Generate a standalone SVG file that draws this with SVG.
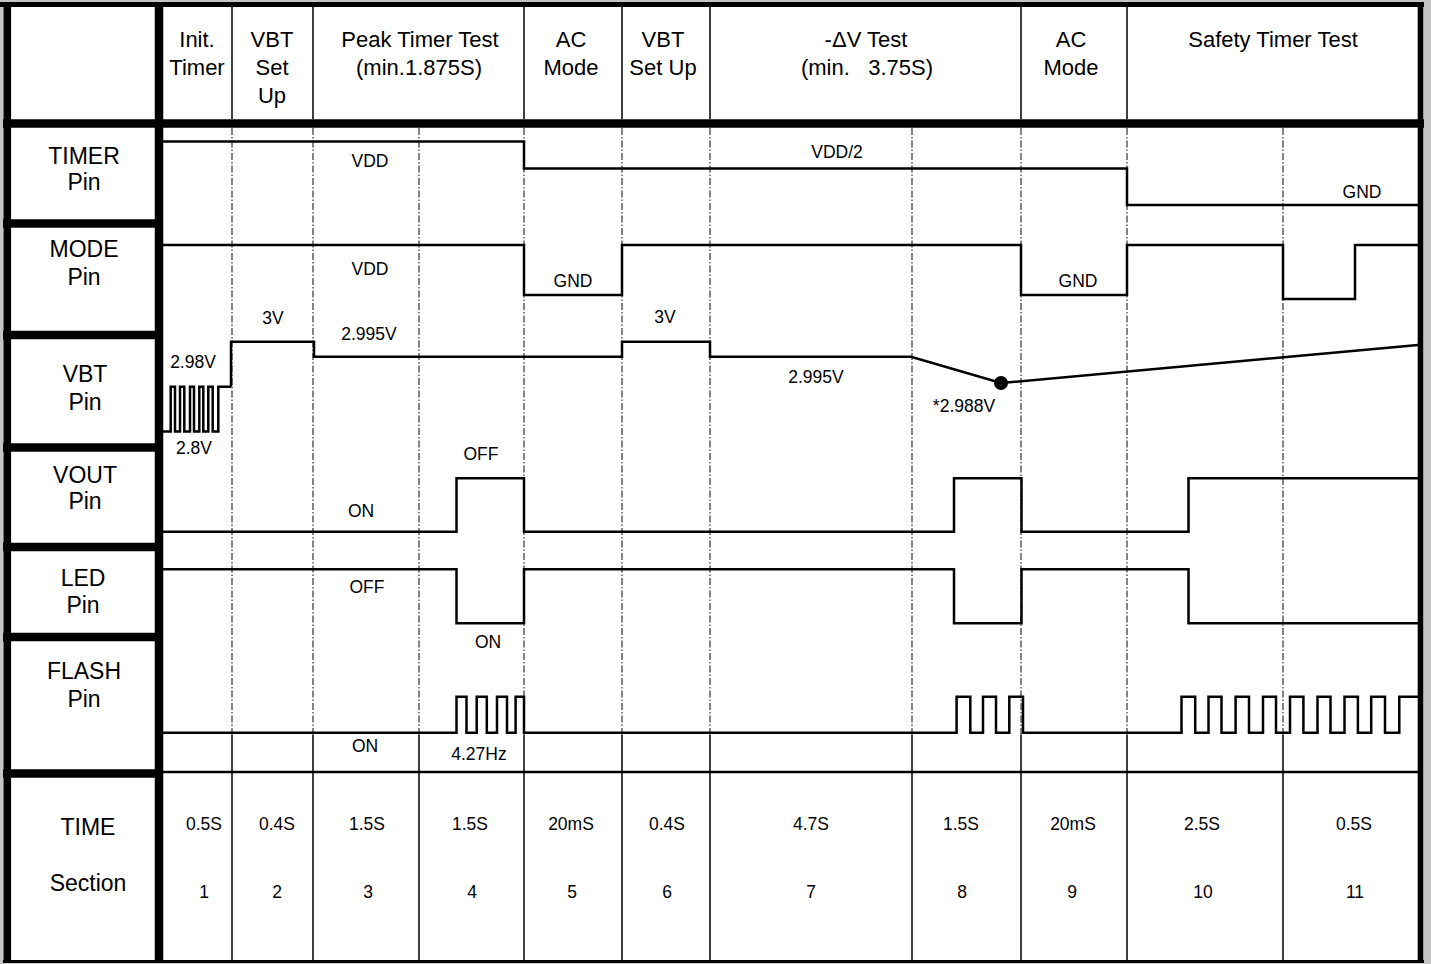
<svg xmlns="http://www.w3.org/2000/svg" width="1431" height="964" viewBox="0 0 1431 964">
<style>
text{font-family:"Liberation Sans",Arial,sans-serif;fill:#000;text-anchor:middle}
.pin{font-size:23px}
.hdr{font-size:22px;white-space:pre}
.sm{font-size:17.5px}
.thick{stroke:#000;stroke-width:8.5;fill:none}
.thin{stroke:#000;stroke-width:1.5;fill:none}
.grid{stroke:#333;stroke-width:1.2;stroke-dasharray:7 2 1.5 2;fill:none}
.sig{stroke:#000;stroke-width:2.5;fill:none;stroke-linejoin:miter}
</style>
<rect x="0" y="0" width="1431" height="964" fill="#c4c4c4"/>
<rect x="3.5" y="2" width="1420" height="960" fill="#fff"/>

<g id="frame">
  <line x1="0" y1="4.5" x2="1424" y2="4.5" stroke="#000" stroke-width="5"/>
  <line x1="7.3" y1="2" x2="7.3" y2="963" stroke="#000" stroke-width="7.6"/>
  <line x1="1420.5" y1="2" x2="1420.5" y2="963" stroke="#000" stroke-width="5.6"/>
  <line x1="3" y1="961.5" x2="1424" y2="961.5" stroke="#000" stroke-width="3"/>
  <line x1="159" y1="2" x2="159" y2="962" class="thick"/>
  <line x1="3" y1="123.5" x2="1424" y2="123.5" class="thick"/>
  <line x1="3" y1="223.5" x2="163" y2="223.5" class="thick"/>
  <line x1="3" y1="335" x2="163" y2="335" class="thick"/>
  <line x1="3" y1="447.5" x2="163" y2="447.5" class="thick"/>
  <line x1="3" y1="547" x2="163" y2="547" class="thick"/>
  <line x1="3" y1="637" x2="163" y2="637" class="thick"/>
  <line x1="3" y1="773.5" x2="163" y2="773.5" class="thick"/>
  <line x1="163" y1="772" x2="1418" y2="772" stroke="#000" stroke-width="2.5"/>
</g>

<g id="header-dividers">
  <line x1="232" y1="7" x2="232" y2="119" class="thin"/>
  <line x1="313" y1="7" x2="313" y2="119" class="thin"/>
  <line x1="524" y1="7" x2="524" y2="119" class="thin"/>
  <line x1="622" y1="7" x2="622" y2="119" class="thin"/>
  <line x1="710" y1="7" x2="710" y2="119" class="thin"/>
  <line x1="1021" y1="7" x2="1021" y2="119" class="thin"/>
  <line x1="1127" y1="7" x2="1127" y2="119" class="thin"/>
</g>

<g id="section-grid">
  <path class="grid" d="M232,128V735M313,128V735M419,128V735M524,128V735M622,128V735M710,128V735M912,128V735M1021,128V735M1127,128V735M1283,128V735"/>
  <path class="thin" d="M232,735V961M313,735V961M419,735V961M524,735V961M622,735V961M710,735V961M912,735V961M1021,735V961M1127,735V961M1283,735V961"/>
</g>

<g id="header">
  <text class="hdr" x="197" y="47">Init.</text>
  <text class="hdr" x="197" y="75">Timer</text>
  <text class="hdr" x="272" y="47">VBT</text>
  <text class="hdr" x="272" y="75">Set</text>
  <text class="hdr" x="272" y="103">Up</text>
  <text class="hdr" x="420" y="47">Peak Timer Test</text>
  <text class="hdr" x="419" y="75">(min.1.875S)</text>
  <text class="hdr" x="571" y="47">AC</text>
  <text class="hdr" x="571" y="75">Mode</text>
  <text class="hdr" x="663" y="47">VBT</text>
  <text class="hdr" x="663" y="75">Set Up</text>
  <text class="hdr" x="866" y="47">-ΔV Test</text>
  <text class="hdr" x="867" y="75">(min.   3.75S)</text>
  <text class="hdr" x="1071" y="47">AC</text>
  <text class="hdr" x="1071" y="75">Mode</text>
  <text class="hdr" x="1273" y="47">Safety Timer Test</text>
</g>

<g id="pin-labels">
  <text class="pin" x="84" y="164">TIMER</text>
  <text class="pin" x="84" y="190">Pin</text>
  <text class="pin" x="84" y="257">MODE</text>
  <text class="pin" x="84" y="285">Pin</text>
  <text class="pin" x="85" y="382">VBT</text>
  <text class="pin" x="85" y="410">Pin</text>
  <text class="pin" x="85" y="483">VOUT</text>
  <text class="pin" x="85" y="509">Pin</text>
  <text class="pin" x="83" y="586">LED</text>
  <text class="pin" x="83" y="613">Pin</text>
  <text class="pin" x="84" y="679">FLASH</text>
  <text class="pin" x="84" y="707">Pin</text>
  <text class="pin" x="88" y="835">TIME</text>
  <text class="pin" x="88" y="891">Section</text>
</g>

<g id="timer-signal">
  <path class="sig" stroke-width="2" d="M163,141.5H524V168.5H1127V205H1418"/>
  <text class="sm" x="370" y="167">VDD</text>
  <text class="sm" x="837" y="158">VDD/2</text>
  <text class="sm" x="1362" y="198">GND</text>
</g>

<g id="mode-signal">
  <path class="sig" d="M163,245H524V295H622V245H1021V295H1127V245H1283V299H1355V245H1418"/>
  <text class="sm" x="370" y="275">VDD</text>
  <text class="sm" x="573" y="287">GND</text>
  <text class="sm" x="1078" y="287">GND</text>
</g>

<g id="vbt-signal">
  <path class="sig" stroke-width="2" d="M163,431.5H170.7V386.7H175V431.5H180V386.7H184.3V431.5H190V386.7H194V431.5H199.3V386.7H203.3V431.5H208.3V386.7H212.7V431.5H218.3V386.7H231"/>
  <path class="sig" d="M231,386.7V341.7H314V356.7H622V341.7H710V356.7H911L1001,383L1418,345"/>
  <circle cx="1001" cy="383" r="7"/>
  <text class="sm" x="193" y="368">2.98V</text>
  <text class="sm" x="194" y="454">2.8V</text>
  <text class="sm" x="273" y="324">3V</text>
  <text class="sm" x="369" y="340">2.995V</text>
  <text class="sm" x="665" y="323">3V</text>
  <text class="sm" x="816" y="383">2.995V</text>
  <text class="sm" x="964" y="412">*2.988V</text>
</g>

<g id="vout-signal">
  <path class="sig" d="M163,531.7H456.5V478.3H524V531.7H954V478.3H1021.5V531.7H1188.5V478.3H1418"/>
  <text class="sm" x="481" y="460">OFF</text>
  <text class="sm" x="361" y="517">ON</text>
</g>

<g id="led-signal">
  <path class="sig" d="M163,569.3H456.5V623.3H524V569.3H954V623.3H1021.5V569.3H1188.5V623.3H1418"/>
  <text class="sm" x="367" y="593">OFF</text>
  <text class="sm" x="488" y="648">ON</text>
</g>

<g id="flash-signal">
  <path class="sig" d="M163,732.7H456.5V696.7H466.5V732.7H476.7V696.7H486.8V732.7H497V696.7H507V732.7H515.6V696.7H524V732.7H956.6V696.7H970.3V732.7H983V696.7H996V732.7H1009.3V696.7H1023V732.7H1181.5V696.7H1195.2V732.7H1208.5V696.7H1221.5V732.7H1235.6V696.7H1249V732.7H1263V696.7H1276V732.7H1290V696.7H1303.4V732.7H1317.5V696.7H1330.5V732.7H1344.5V696.7H1357.9V732.7H1371.2V696.7H1385V732.7H1399.3V696.7H1418"/>
  <text class="sm" x="365" y="752">ON</text>
  <text class="sm" x="479" y="760">4.27Hz</text>
</g>

<g id="time-row">
  <text class="sm" x="204" y="830">0.5S</text>
  <text class="sm" x="277" y="830">0.4S</text>
  <text class="sm" x="367" y="830">1.5S</text>
  <text class="sm" x="470" y="830">1.5S</text>
  <text class="sm" x="571" y="830">20mS</text>
  <text class="sm" x="667" y="830">0.4S</text>
  <text class="sm" x="811" y="830">4.7S</text>
  <text class="sm" x="961" y="830">1.5S</text>
  <text class="sm" x="1073" y="830">20mS</text>
  <text class="sm" x="1202" y="830">2.5S</text>
  <text class="sm" x="1354" y="830">0.5S</text>
  <text class="sm" x="204" y="898">1</text>
  <text class="sm" x="277" y="898">2</text>
  <text class="sm" x="368" y="898">3</text>
  <text class="sm" x="472" y="898">4</text>
  <text class="sm" x="572" y="898">5</text>
  <text class="sm" x="667" y="898">6</text>
  <text class="sm" x="811" y="898">7</text>
  <text class="sm" x="962" y="898">8</text>
  <text class="sm" x="1072" y="898">9</text>
  <text class="sm" x="1203" y="898">10</text>
  <text class="sm" x="1355" y="898">11</text>
</g>
</svg>
